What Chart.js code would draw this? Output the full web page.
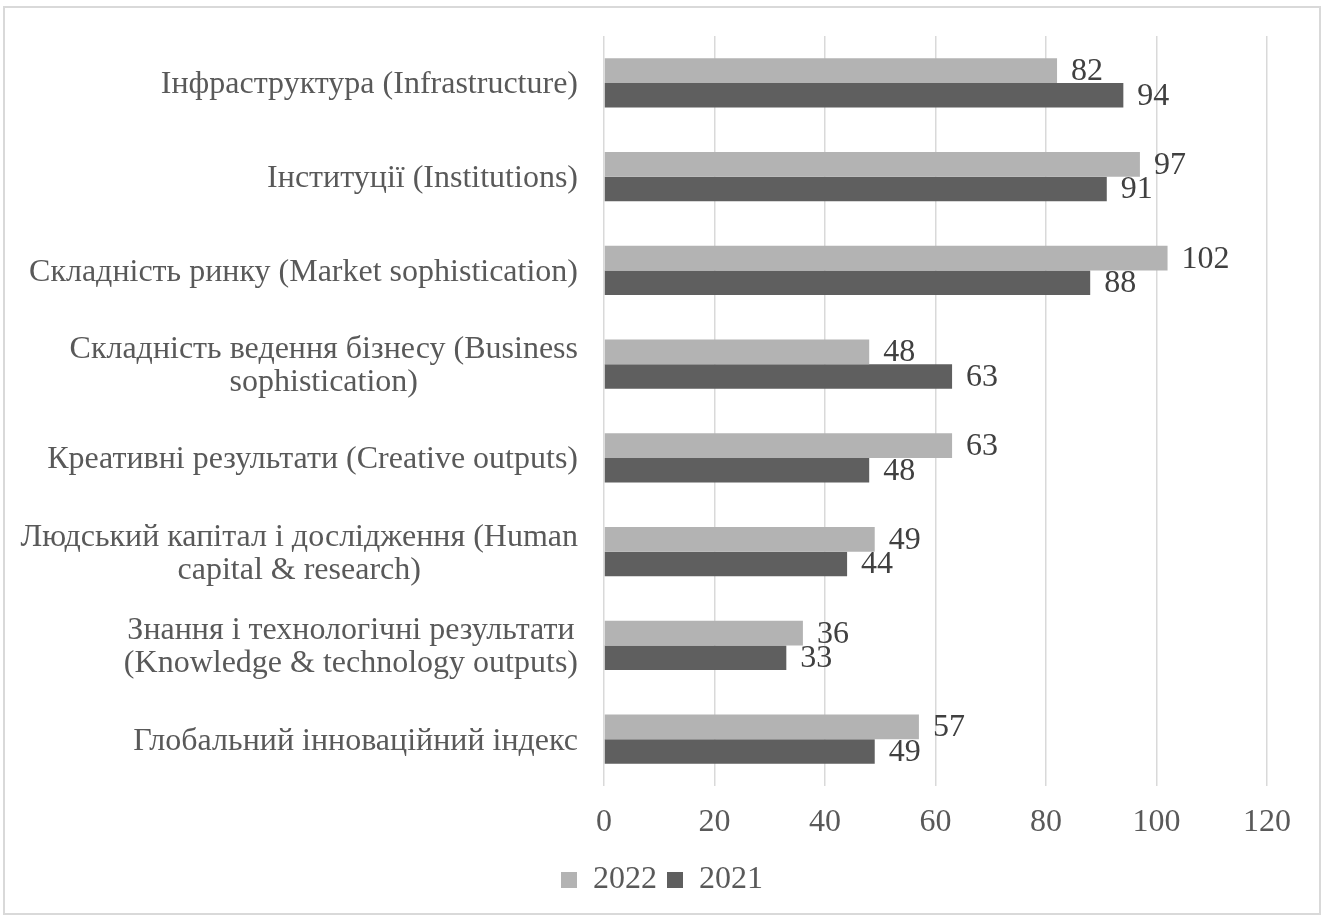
<!DOCTYPE html>
<html>
<head>
<meta charset="utf-8">
<script src="https://cdn.jsdelivr.net/npm/chart.js@4"></script>
<style>
    html, body { margin: 0; padding: 0; background: #fff; }
    #wrap { position: relative; width: 1324px; height: 918px; }
</style>
</head>
<body>
<div id="wrap"><canvas id="giiChart" width="1324" height="918"></canvas></div>
<script>
// categories (multi-line where the original wraps)
const categories = [
    'Інфраструктура (Infrastructure)',
    'Інституції (Institutions)',
    'Складність ринку (Market sophistication)',
    ['Складність ведення бізнесу (Business', 'sophistication)'],
    'Креативні результати (Creative outputs)',
    ['Людський капітал і дослідження (Human', 'capital & research)'],
    ['Знання і технологічні результати', '(Knowledge & technology outputs)'],
    'Глобальний інноваційний індекс'
];
const values2022 = [82, 97, 102, 48, 63, 49, 36, 57];
const values2021 = [94, 91, 88, 63, 48, 44, 33, 49];
const xTicks = [0, 20, 40, 60, 80, 100, 120];

const serif = '"Liberation Serif", "Times New Roman", serif';

document.addEventListener("DOMContentLoaded", function() {
    // frame round the whole chart
    const framePlugin = {
        id: 'frame',
        beforeDraw(chart) {
            const ctx = chart.ctx;
            ctx.save();
            ctx.fillStyle = '#fff';
            ctx.fillRect(0, 0, chart.width, chart.height);
            ctx.strokeStyle = '#d9d9d9';
            ctx.lineWidth = 2;
            ctx.strokeRect(4, 7, 1316, 907);
            ctx.restore();
        }
    };

    // category labels: block right-aligned, lines centred to each other
    const catLabels = {
        id: 'catLabels',
        afterDraw(chart) {
            const ctx = chart.ctx;
            const yScale = chart.scales.y;
            const right = 578;
            const lineH = 33;
            ctx.save();
            ctx.font = '32px ' + serif;
            ctx.fillStyle = '#595959';
            ctx.textBaseline = 'middle';
            ctx.textAlign = 'center';
            chart.data.labels.forEach(function(lab, i) {
                const lines = Array.isArray(lab) ? lab : [lab];
                const widest = Math.max.apply(null, lines.map(function(l) { return ctx.measureText(l).width; }));
                const cx = right - widest / 2;
                const cy = yScale.getPixelForValue(i) + 2;
                const y0 = cy - (lines.length - 1) * lineH / 2;
                lines.forEach(function(l, k) {
                    ctx.fillText(l, cx, y0 + k * lineH);
                });
            });
            ctx.restore();
        }
    };

    // value labels at bar ends
    const valueLabels = {
        id: 'valueLabels',
        afterDatasetsDraw(chart) {
            const ctx = chart.ctx;
            ctx.save();
            ctx.font = '32px ' + serif;
            ctx.fillStyle = '#404040';
            ctx.textBaseline = 'middle';
            ctx.textAlign = 'left';
            chart.data.datasets.forEach(function(ds, di) {
                chart.getDatasetMeta(di).data.forEach(function(bar, i) {
                    ctx.fillText(String(ds.data[i]), bar.x + 14, bar.y + 1);
                });
            });
            ctx.restore();
        }
    };

    new Chart(document.getElementById('giiChart').getContext('2d'), {
        type: 'bar',
        data: {
            labels: categories,
            datasets: [{
                label: '2022',
                data: values2022,
                backgroundColor: '#b3b3b3',
                borderWidth: 0,
                categoryPercentage: 0.523,
                barPercentage: 1
            }, {
                label: '2021',
                data: values2021,
                backgroundColor: '#5f5f5f',
                borderWidth: 0,
                categoryPercentage: 0.523,
                barPercentage: 1
            }]
        },
        options: {
            indexAxis: 'y',
            responsive: false,
            animation: false,
            layout: {
                padding: { top: 36, right: 57, left: 57, bottom: 12 }
            },
            scales: {
                x: {
                    min: 0,
                    max: 120,
                    afterBuildTicks: function(scale) {
                        scale.ticks = xTicks.map(function(v) { return { value: v }; });
                    },
                    afterFit: function(scale) { scale.height = 68; },
                    grid: { color: '#d9d9d9', lineWidth: 1.5, drawTicks: false },
                    border: { display: false },
                    ticks: {
                        padding: 17,
                        color: '#595959',
                        font: { family: serif, size: 32 }
                    }
                },
                y: {
                    afterFit: function(scale) { scale.width = 547; },
                    grid: { display: false },
                    border: { display: false },
                    ticks: { display: false }
                }
            },
            plugins: {
                legend: {
                    position: 'bottom',
                    labels: {
                        boxWidth: 16,
                        boxHeight: 16,
                        padding: 10,
                        color: '#595959',
                        font: { family: serif, size: 32 }
                    }
                },
                tooltip: { enabled: false }
            }
        },
        plugins: [framePlugin, catLabels, valueLabels]
    });
});
</script>
</body>
</html>
